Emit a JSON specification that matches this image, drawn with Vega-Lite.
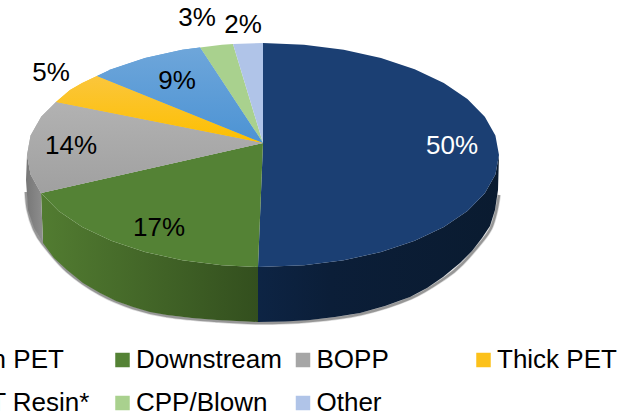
{"$schema":"https://vega.github.io/schema/vega-lite/v6.json","width":633,"height":414,"autosize":{"type":"none"},"padding":0,"background":"white","config":{"view":{"stroke":null},"font":"Liberation Sans"},
"datasets":{"shape":[
{"s":"shadow","o":1,"x":499,"y":195},{"s":"shadow","o":2,"x":496,"y":212},{"s":"shadow","o":3,"x":491,"y":228},{"s":"shadow","o":4,"x":483,"y":240},{"s":"shadow","o":5,"x":462,"y":264},{"s":"shadow","o":6,"x":445,"y":278},{"s":"shadow","o":7,"x":411,"y":298},{"s":"shadow","o":8,"x":361,"y":314},{"s":"shadow","o":9,"x":310,"y":321},{"s":"shadow","o":10,"x":258,"y":323},{"s":"shadow","o":11,"x":217,"y":321},{"s":"shadow","o":12,"x":167,"y":316},{"s":"shadow","o":13,"x":133,"y":308},{"s":"shadow","o":14,"x":100,"y":294},{"s":"shadow","o":15,"x":67,"y":271},{"s":"shadow","o":16,"x":43,"y":244},{"s":"shadow","o":17,"x":34,"y":229},{"s":"shadow","o":18,"x":28,"y":210},{"s":"shadow","o":19,"x":26,"y":192},
{"s":"wallblue","o":1,"x":499,"y":155},{"s":"wallblue","o":2,"x":495.4,"y":174.4},{"s":"wallblue","o":3,"x":484.8,"y":193.3},{"s":"wallblue","o":4,"x":467.4,"y":211},{"s":"wallblue","o":5,"x":443.8,"y":227},{"s":"wallblue","o":6,"x":414.7,"y":240.8},{"s":"wallblue","o":7,"x":381,"y":252},{"s":"wallblue","o":8,"x":343.7,"y":260.2},{"s":"wallblue","o":9,"x":304,"y":265.3},{"s":"wallblue","o":10,"x":258,"y":267},{"s":"wallblue","o":11,"x":258,"y":322},{"s":"wallblue","o":12,"x":285,"y":321.5},{"s":"wallblue","o":13,"x":310,"y":320},{"s":"wallblue","o":14,"x":335,"y":317},{"s":"wallblue","o":15,"x":360,"y":313},{"s":"wallblue","o":16,"x":385,"y":306},{"s":"wallblue","o":17,"x":410,"y":297},{"s":"wallblue","o":18,"x":427,"y":288},{"s":"wallblue","o":19,"x":443,"y":277},{"s":"wallblue","o":20,"x":460,"y":263},{"s":"wallblue","o":21,"x":472,"y":251},{"s":"wallblue","o":22,"x":482,"y":238},{"s":"wallblue","o":23,"x":490,"y":226},{"s":"wallblue","o":24,"x":495,"y":210},{"s":"wallblue","o":25,"x":498,"y":190},
{"s":"wallgreen","o":1,"x":258,"y":267},{"s":"wallgreen","o":2,"x":222,"y":265.3},{"s":"wallgreen","o":3,"x":182.3,"y":260.2},{"s":"wallgreen","o":4,"x":145,"y":252},{"s":"wallgreen","o":5,"x":111.3,"y":240.8},{"s":"wallgreen","o":6,"x":82.2,"y":227},{"s":"wallgreen","o":7,"x":58.6,"y":211},{"s":"wallgreen","o":8,"x":41,"y":193},{"s":"wallgreen","o":9,"x":43,"y":243},{"s":"wallgreen","o":10,"x":54,"y":258},{"s":"wallgreen","o":11,"x":67,"y":270},{"s":"wallgreen","o":12,"x":83,"y":283},{"s":"wallgreen","o":13,"x":100,"y":293},{"s":"wallgreen","o":14,"x":116,"y":301},{"s":"wallgreen","o":15,"x":133,"y":307},{"s":"wallgreen","o":16,"x":150,"y":312},{"s":"wallgreen","o":17,"x":167,"y":315},{"s":"wallgreen","o":18,"x":192,"y":318},{"s":"wallgreen","o":19,"x":217,"y":320},{"s":"wallgreen","o":20,"x":258,"y":322},
{"s":"wallgray","o":1,"x":41,"y":193},{"s":"wallgray","o":2,"x":30.6,"y":174.4},{"s":"wallgray","o":3,"x":27,"y":155},{"s":"wallgray","o":4,"x":26,"y":180},{"s":"wallgray","o":5,"x":28,"y":210},{"s":"wallgray","o":6,"x":34,"y":228},{"s":"wallgray","o":7,"x":43,"y":243},
{"s":"Thin PET","o":1,"x":263,"y":143},{"s":"Thin PET","o":2,"x":263,"y":43},{"s":"Thin PET","o":3,"x":304,"y":44.7},{"s":"Thin PET","o":4,"x":343.7,"y":49.8},{"s":"Thin PET","o":5,"x":381,"y":58},{"s":"Thin PET","o":6,"x":414.7,"y":69.2},{"s":"Thin PET","o":7,"x":443.8,"y":83},{"s":"Thin PET","o":8,"x":467.4,"y":99},{"s":"Thin PET","o":9,"x":484.8,"y":116.7},{"s":"Thin PET","o":10,"x":495.4,"y":135.6},{"s":"Thin PET","o":11,"x":499,"y":155},{"s":"Thin PET","o":12,"x":495.4,"y":174.4},{"s":"Thin PET","o":13,"x":484.8,"y":193.3},{"s":"Thin PET","o":14,"x":467.4,"y":211},{"s":"Thin PET","o":15,"x":443.8,"y":227},{"s":"Thin PET","o":16,"x":414.7,"y":240.8},{"s":"Thin PET","o":17,"x":381,"y":252},{"s":"Thin PET","o":18,"x":343.7,"y":260.2},{"s":"Thin PET","o":19,"x":304,"y":265.3},{"s":"Thin PET","o":20,"x":258,"y":267},
{"s":"Downstream","o":1,"x":263,"y":143},{"s":"Downstream","o":2,"x":258,"y":267},{"s":"Downstream","o":3,"x":222,"y":265.3},{"s":"Downstream","o":4,"x":182.3,"y":260.2},{"s":"Downstream","o":5,"x":145,"y":252},{"s":"Downstream","o":6,"x":111.3,"y":240.8},{"s":"Downstream","o":7,"x":82.2,"y":227},{"s":"Downstream","o":8,"x":58.6,"y":211},{"s":"Downstream","o":9,"x":41,"y":193},
{"s":"BOPP","o":1,"x":263,"y":143},{"s":"BOPP","o":2,"x":41,"y":193},{"s":"BOPP","o":3,"x":30.6,"y":174.4},{"s":"BOPP","o":4,"x":27,"y":155},{"s":"BOPP","o":5,"x":30.6,"y":135.6},{"s":"BOPP","o":6,"x":41.2,"y":116.7},{"s":"BOPP","o":7,"x":56,"y":102},
{"s":"Thick PET","o":1,"x":263,"y":143},{"s":"Thick PET","o":2,"x":56,"y":102},{"s":"Thick PET","o":3,"x":70,"y":90},{"s":"Thick PET","o":4,"x":82.2,"y":83},{"s":"Thick PET","o":5,"x":97,"y":76},
{"s":"PET Resin*","o":1,"x":263,"y":143},{"s":"PET Resin*","o":2,"x":97,"y":76},{"s":"PET Resin*","o":3,"x":111.3,"y":69.2},{"s":"PET Resin*","o":4,"x":145,"y":58},{"s":"PET Resin*","o":5,"x":182.3,"y":49.8},{"s":"PET Resin*","o":6,"x":200,"y":47.5},
{"s":"CPP/Blown","o":1,"x":263,"y":143},{"s":"CPP/Blown","o":2,"x":200,"y":47.5},{"s":"CPP/Blown","o":3,"x":222,"y":44.7},{"s":"CPP/Blown","o":4,"x":233,"y":44},
{"s":"Other","o":1,"x":263,"y":143},{"s":"Other","o":2,"x":233,"y":44},{"s":"Other","o":3,"x":263,"y":43}
],
"labels":[
{"label":"50%","s":"Thin PET","value":50,"x":452,"y":146},{"label":"17%","s":"Downstream","value":17,"x":159,"y":228},{"label":"14%","s":"BOPP","value":14,"x":71,"y":146},{"label":"5%","s":"Thick PET","value":5,"x":51,"y":73},{"label":"9%","s":"PET Resin*","value":9,"x":177,"y":81},{"label":"3%","s":"CPP/Blown","value":3,"x":197,"y":18},{"label":"2%","s":"Other","value":2,"x":243,"y":25}
]},
"encoding":{
"x":{"field":"x","type":"quantitative","scale":{"domain":[0,633],"range":[0,633],"nice":false,"zero":false},"axis":null},
"y":{"field":"y","type":"quantitative","scale":{"domain":[0,414],"range":[0,414],"nice":false,"zero":false},"axis":null}},
"layer":[
{"data":{"name":"shape"},"transform":[{"filter":"datum.s=='shadow'"}],"mark":{"type":"line","stroke":"#444444","strokeWidth":4,"opacity":0.2,"interpolate":"cardinal"},"encoding":{"order":{"field":"o","type":"quantitative"}}},
{"data":{"name":"shape"},"transform":[{"filter":"datum.s=='shadow'"}],"mark":{"type":"line","stroke":"#333333","strokeWidth":2.5,"opacity":0.4,"interpolate":"cardinal"},"encoding":{"order":{"field":"o","type":"quantitative"}}},
{"data":{"name":"shape"},"transform":[{"filter":"datum.s=='wallblue'"}],"mark":{"type":"line","stroke":"transparent","fill":{"gradient":"linear","x1":0,"x2":1,"y1":0,"y2":0,"stops":[{"offset":0,"color":"#0d2444"},{"offset":0.3,"color":"#0b1e38"},{"offset":1,"color":"#0a1b30"}]}},"encoding":{"order":{"field":"o","type":"quantitative"}}},
{"data":{"name":"shape"},"transform":[{"filter":"datum.s=='wallgreen'"}],"mark":{"type":"line","stroke":"transparent","fill":{"gradient":"linear","x1":0,"x2":1,"y1":0,"y2":0,"stops":[{"offset":0,"color":"#527c31"},{"offset":1,"color":"#334f1e"}]}},"encoding":{"order":{"field":"o","type":"quantitative"}}},
{"data":{"name":"shape"},"transform":[{"filter":"datum.s=='wallgray'"}],"mark":{"type":"line","stroke":"transparent","fill":{"gradient":"linear","x1":0,"x2":1,"y1":0,"y2":0,"stops":[{"offset":0,"color":"#777777"},{"offset":1,"color":"#8e8e8e"}]}},"encoding":{"order":{"field":"o","type":"quantitative"}}},
{"data":{"name":"shape"},"transform":[{"filter":"datum.s!='shadow'&&datum.s!='wallblue'&&datum.s!='wallgreen'&&datum.s!='wallgray'"}],"mark":{"type":"line","stroke":"transparent"},
"encoding":{"order":{"field":"o","type":"quantitative"},
"fill":{"field":"s","type":"nominal","scale":{"domain":["Thin PET","Downstream","BOPP","Thick PET","PET Resin*","CPP/Blown","Other"],"range":["#1b3f73","#548235","#a6a6a6","#fcc11a","#5b9bd5","#a9d18e","#b0c4e8"]},
"legend":{"title":null,"orient":"none","legendX":-71,"legendY":347,"direction":"horizontal","columns":4,"gridAlign":"all","symbolType":"square","symbolSize":210,"symbolStrokeWidth":0,"labelFontSize":26,"labelFont":"Liberation Sans","labelColor":"#000000","labelOffset":0.5,"labelLimit":300,"columnPadding":7.5,"rowPadding":17}}}},
{"data":{"name":"shape"},"transform":[{"filter":"datum.s=='BOPP'"}],"mark":{"type":"line","stroke":"transparent","fill":{"gradient":"linear","x1":0,"x2":0,"y1":0,"y2":1,"stops":[{"offset":0,"color":"#b2b2b2"},{"offset":1,"color":"#a0a0a0"}]}},"encoding":{"order":{"field":"o","type":"quantitative"}}},
{"data":{"name":"shape"},"transform":[{"filter":"datum.s=='Thick PET'"}],"mark":{"type":"line","stroke":"transparent","fill":{"gradient":"linear","x1":0,"x2":0,"y1":0,"y2":1,"stops":[{"offset":0,"color":"#fbc63c"},{"offset":1,"color":"#fdbf00"}]}},"encoding":{"order":{"field":"o","type":"quantitative"}}},
{"data":{"name":"shape"},"transform":[{"filter":"datum.s=='PET Resin*'"}],"mark":{"type":"line","stroke":"transparent","fill":{"gradient":"linear","x1":0,"x2":0,"y1":0,"y2":1,"stops":[{"offset":0,"color":"#6ea6da"},{"offset":1,"color":"#4c93d4"}]}},"encoding":{"order":{"field":"o","type":"quantitative"}}},
{"data":{"name":"labels"},"mark":{"type":"text","font":"Liberation Sans","fontSize":26,"baseline":"middle","align":"center"},
"encoding":{"text":{"field":"label","type":"nominal"},"color":{"condition":{"test":"datum.value==50","value":"#ffffff"},"value":"#000000"}}}
]}
